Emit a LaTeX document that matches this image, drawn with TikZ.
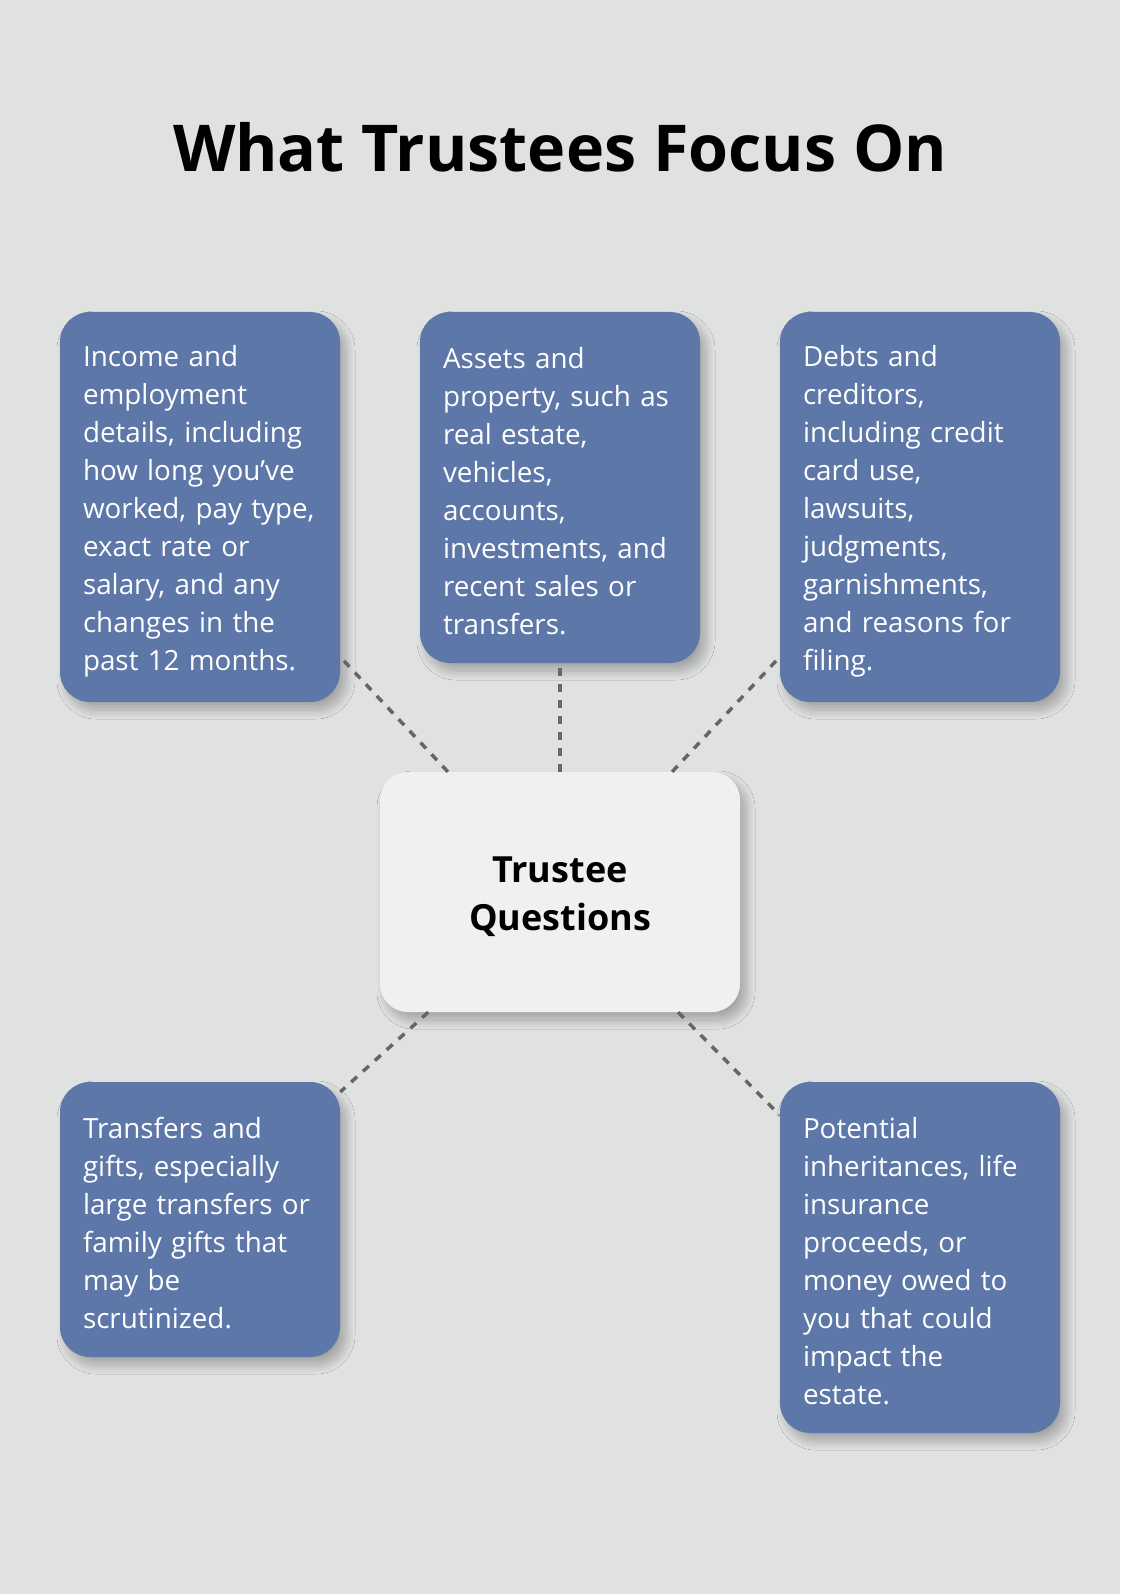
\documentclass[tikz,border=0pt]{standalone}
\usepackage{fontspec}
\setmainfont{Open Sans}
\usepackage{xcolor}
\usetikzlibrary{shadows.blur}

\definecolor{bgGray}{HTML}{E0E2E1}
\definecolor{topicBlue}{HTML}{5D77A8}
\definecolor{hubFill}{HTML}{EFF0F2}
\definecolor{linkGray}{HTML}{666666}

\begin{document}
\begin{tikzpicture}[x=1pt, y=-1pt,
  softshadow/.style={blur shadow={shadow xshift=6pt, shadow yshift=-8pt,
    shadow blur radius=9pt, shadow blur steps=20, shadow opacity=28}},
  topic/.style={rounded corners=30pt, fill=topicBlue, text=white,
    minimum width=280pt, text width=234pt, inner xsep=23pt, align=left,
    font=\fontsize{27.8}{38}\selectfont, softshadow,
    execute at begin node={\rule{0pt}{29pt}}},
  hub/.style={rounded corners=28pt, fill=hubFill, minimum width=360pt, minimum height=240pt,
    align=center, font=\fontsize{36}{48}\selectfont\bfseries, softshadow},
  link/.style={linkGray, line width=3.5pt, dash pattern=on 8pt off 8pt}]
% BACKGROUND and page size
\fill[bgGray] (0,0) rectangle (1120,1594);
\useasboundingbox (0,0) rectangle (1120,1594);
% TITLE
\node[font=\fontsize{64.6}{70}\selectfont\bfseries] (title) at (560,147) {What Trustees Focus On};
% TOP ROW
\node[topic, minimum height=390pt] (income) at (200,507) {Income and\\employment\\details, including\\how long you’ve\\worked, pay type,\\exact rate or\\salary, and any\\changes in the\\past 12 months.};
\node[topic, minimum height=351pt] (assets) at (560,487.5) {Assets and\\property, such as\\real estate,\\vehicles,\\accounts,\\investments, and\\recent sales or\\transfers.};
\node[topic, minimum height=390pt] (debts) at (920,507) {Debts and\\creditors,\\including credit\\card use,\\lawsuits,\\judgments,\\garnishments,\\and reasons for\\filing.};
% CENTER
\node[hub] (questions) at (560,892) {\rule{0pt}{36pt}Trustee\\Questions};
% BOTTOM ROW
\node[topic, minimum height=275pt] (transfers) at (200,1219.5) {Transfers and\\gifts, especially\\large transfers or\\family gifts that\\may be\\scrutinized.};
\node[topic, minimum height=351pt] (inherit) at (920,1257.5) {Potential\\inheritances, life\\insurance\\proceeds, or\\money owed to\\you that could\\impact the\\estate.};
% LINKS
\foreach \t in {income, assets, debts, transfers, inherit}
  \draw[link] (questions) -- (\t);
\end{tikzpicture}
\end{document}
